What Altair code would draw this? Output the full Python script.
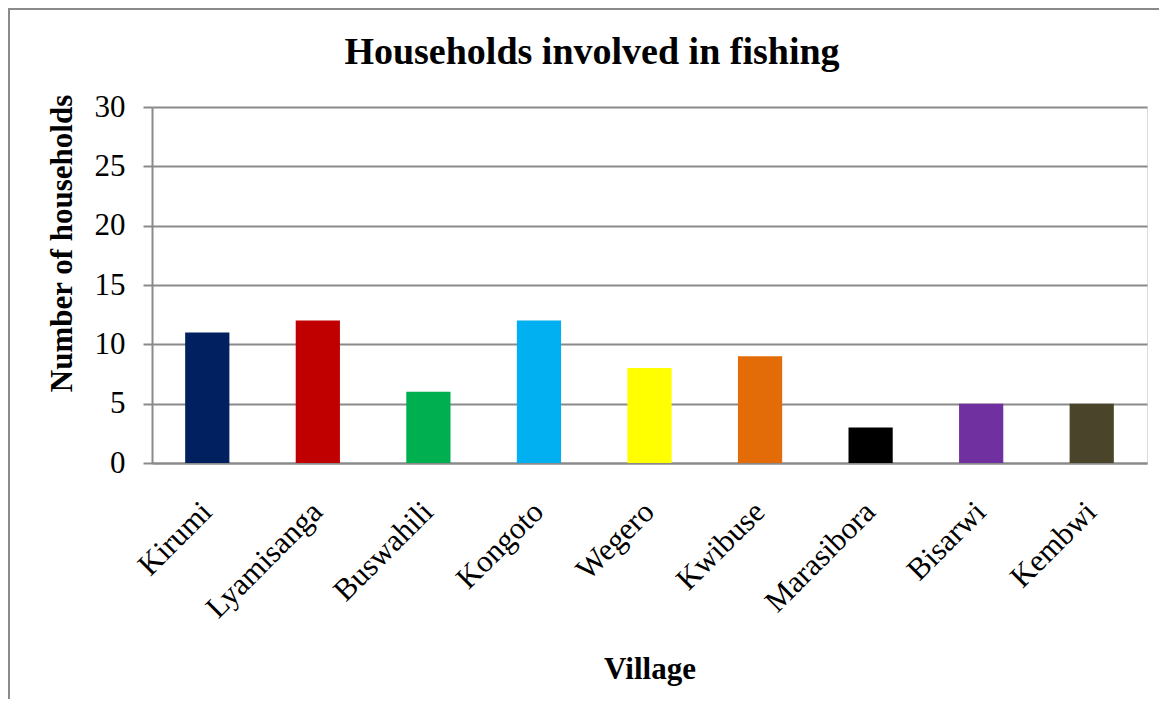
import altair as alt
import pandas as pd

villages = ["Kirumi", "Lyamisanga", "Buswahili", "Kongoto", "Wegero",
            "Kwibuse", "Marasibora", "Bisarwi", "Kembwi"]
households = [11, 12, 6, 12, 8, 9, 3, 5, 5]
colors = ["#002060", "#C00000", "#00B050", "#00B0F0", "#FFFF00",
          "#E36C09", "#000000", "#7030A0", "#4A452A"]
title_text = "Households involved in fishing"

df = pd.DataFrame({"Village": villages, "Households": households})

FONT = "Liberation Serif"
W, H = 995, 356

bars = alt.Chart(df).mark_bar().encode(
    x=alt.X("Village:N", sort=villages,
            scale=alt.Scale(paddingInner=0.6, paddingOuter=0.3),
            axis=alt.Axis(title="Village", labelAngle=-45, labelAlign="right",
                          labelBaseline="middle", labelPadding=44, ticks=False,
                          domainColor="#8a8a8a", domainWidth=2,
                          labelFont=FONT, labelFontSize=31, labelColor="black",
                          titleFont=FONT, titleFontSize=31, titleFontWeight="bold",
                          titleColor="black", titleY=215, titleBaseline="alphabetic")),
    y=alt.Y("Households:Q",
            scale=alt.Scale(domain=[0, 30]),
            axis=alt.Axis(title="Number of households", values=[0, 5, 10, 15, 20, 25, 30],
                          tickSize=9, tickColor="#8a8a8a", tickWidth=2,
                          gridColor="#8a8a8a", gridWidth=2,
                          domainColor="#8a8a8a", domainWidth=2,
                          labelPadding=18, labelFont=FONT, labelFontSize=31,
                          labelColor="black",
                          titleFont=FONT, titleFontSize=31, titleFontWeight="bold",
                          titleColor="black", titleX=-90, titleY=136,
                          titleAlign="center", titleBaseline="middle")),
    color=alt.Color("Village:N", sort=villages,
                    scale=alt.Scale(domain=villages, range=colors), legend=None),
)

border = alt.Chart(df).mark_rect(fill=None, stroke="#8a8a8a", strokeWidth=2).encode(
    x=alt.value(-143), x2=alt.value(1100), y=alt.value(-98), y2=alt.value(700)
)

title = alt.Chart(pd.DataFrame({"t": [title_text]})).mark_text(
    font=FONT, fontSize=38, fontWeight="bold", color="black",
    align="center", baseline="alphabetic"
).encode(text="t:N", x=alt.value(440), y=alt.value(-43))

chart = alt.layer(border, bars, title).properties(
    width=W, height=H,
    autosize=alt.AutoSizeParams(type="none"),
    padding={"left": 144, "top": 99, "right": 12, "bottom": 236},
).configure_view(stroke=None).configure(background="white")

chart.save("out.html", embed_options={"renderer": "svg", "actions": False})
